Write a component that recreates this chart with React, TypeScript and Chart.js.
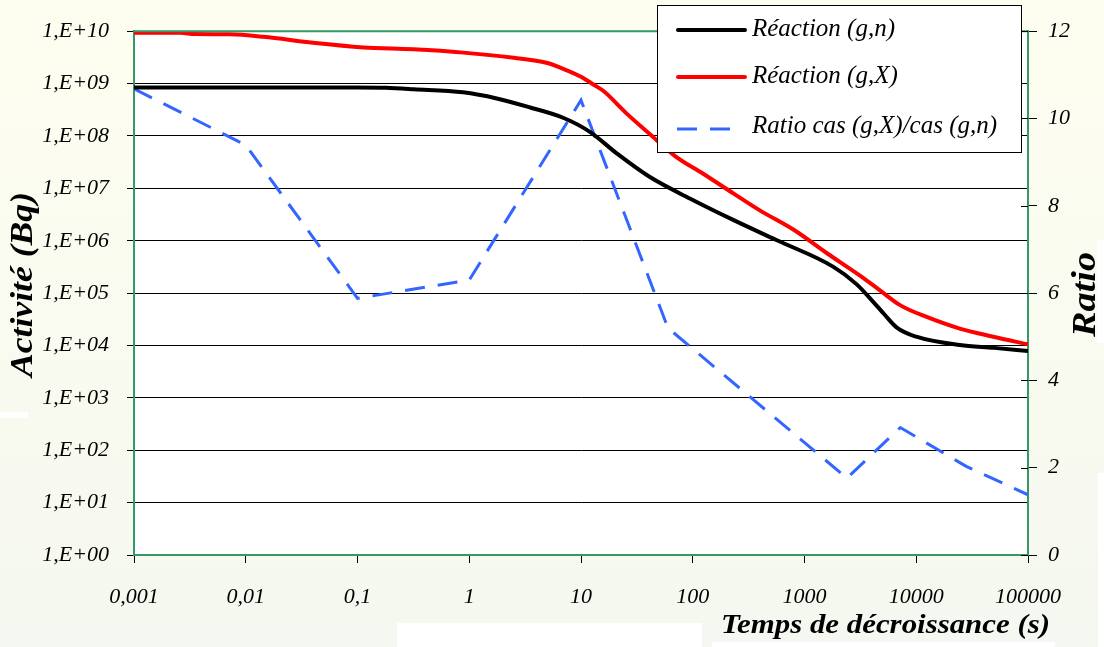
import React, { useEffect, useRef } from "react";
import { Chart, registerables } from "chart.js";

Chart.register(...registerables);

// ---------- data ----------
const xTicks = [0.001, 0.01, 0.1, 1, 10, 100, 1000, 10000, 100000];
const xTickLabels = ["0,001", "0,01", "0,1", "1", "10", "100", "1000", "10000", "100000"];

const yTicks = [1, 1e1, 1e2, 1e3, 1e4, 1e5, 1e6, 1e7, 1e8, 1e9, 1e10];
const yTickLabels = ["1,E+00", "1,E+01", "1,E+02", "1,E+03", "1,E+04", "1,E+05", "1,E+06", "1,E+07", "1,E+08", "1,E+09", "1,E+10"];

const ratioTicks = [0, 2, 4, 6, 8, 10, 12];

const seriesLabels = ["Réaction (g,n)", "Réaction (g,X)", "Ratio cas (g,X)/cas (g,n)"];

// Réaction (g,n)
const gnTimes = [0.001, 0.1, 0.18, 0.32, 0.88, 1.76, 3.5, 7, 12, 21, 41, 100, 230, 560, 1800, 2900, 4100, 5200, 6700, 10000, 24500, 50000, 100000];
const gnActivity = [8.4e8, 8.4e8, 8.3e8, 7.8e8, 6.8e8, 5.2e8, 3.5e8, 2.2e8, 1.2e8, 4.6e7, 1.66e7, 6e6, 2.5e6, 1.03e6, 3.2e5, 1.5e5, 6.9e4, 3.9e4, 2.2e4, 1.47e4, 1.02e4, 9e3, 7.8e3];

// Réaction (g,X)
const gxTimes = [0.001, 0.0026, 0.0035, 0.0072, 0.0144, 0.04, 0.113, 0.316, 0.885, 2.5, 4.9, 7, 10, 13, 15.9, 25.5, 41, 71, 124, 231, 398, 807, 1600, 3090, 4700, 7160, 12400, 24500, 49000, 100000];
const gxActivity = [9.3e9, 9.3e9, 8.8e9, 8.7e9, 7.8e9, 6e9, 4.9e9, 4.5e9, 3.9e9, 3.1e9, 2.5e9, 1.9e9, 1.35e9, 9.5e8, 7.2e8, 2.7e8, 1.1e8, 4e7, 1.9e7, 8e6, 3.8e6, 1.6e6, 5.7e5, 2.2e5, 1.14e5, 5.9e4, 3.5e4, 2.1e4, 1.47e4, 1.05e4];

// Ratio
const ratioTimes = [0.001, 0.01, 0.1, 1, 10, 60, 2400, 7200, 28000, 100000];
const ratioValues = [10.68, 9.39, 5.88, 6.3, 10.42, 5.2, 1.76, 2.92, 2.03, 1.38];

// ---------- styles ----------
const SERIF = "'Liberation Serif', 'Times New Roman', serif";
const GREEN = "#339966";
const BLUE = "#3366ff";
const RED = "#ff0000";
const BLACK = "#000000";

const toPoints = (xs: number[], ys: number[]) => xs.map((x, i) => ({ x, y: ys[i] }));

function drawStretched(
  ctx: CanvasRenderingContext2D,
  text: string,
  x: number,
  y: number,
  font: string,
  targetW: number,
  rot: number
) {
  ctx.save();
  ctx.font = font;
  const w = ctx.measureText(text).width;
  ctx.translate(x, y);
  ctx.rotate(rot);
  ctx.scale(targetW / w, 1);
  ctx.textAlign = "center";
  ctx.textBaseline = "alphabetic";
  ctx.fillStyle = "#000";
  ctx.fillText(text, 0, 0);
  ctx.restore();
}

const decorPlugin = {
  id: "decor",
  beforeDraw(chart: any) {
    const { ctx, chartArea: a, width, height } = chart;
    ctx.save();
    const g = ctx.createLinearGradient(0, 0, 0, height);
    g.addColorStop(0, "#fefef0");
    g.addColorStop(1, "#f5f8f0");
    ctx.fillStyle = g;
    ctx.fillRect(0, 0, width, height);
    ctx.fillStyle = "#ffffff";
    ctx.fillRect(397, 623, 305, 24);
    ctx.fillRect(712, 642, 343, 5);
    ctx.fillRect(0, 412, 28, 6);
    ctx.fillRect(1097, 240, 7, 103);
    ctx.fillRect(1098, 473, 6, 174);
    ctx.fillRect(a.left, a.top, a.right - a.left, a.bottom - a.top);
    ctx.restore();
  },
  afterDraw(chart: any) {
    const { ctx, chartArea: a } = chart;
    ctx.save();
    // top border
    ctx.strokeStyle = GREEN;
    ctx.lineWidth = 2;
    ctx.beginPath();
    ctx.moveTo(a.left - 1, a.top);
    ctx.lineTo(a.right + 1, a.top);
    ctx.stroke();

    // inner part of right-axis ticks
    const y1 = chart.scales.y1;
    ctx.strokeStyle = "#000";
    ctx.lineWidth = 1;
    ratioTicks.forEach((v) => {
      const py = Math.round(y1.getPixelForValue(v)) + 0.5;
      ctx.beginPath();
      ctx.moveTo(a.right - 7, py);
      ctx.lineTo(a.right, py);
      ctx.stroke();
    });

    // axis titles
    drawStretched(ctx, "Temps de décroissance (s)", 885.5, 633, `italic bold 28px ${SERIF}`, 329, 0);
    drawStretched(ctx, "Activité (Bq)", 32, 284.5, `italic bold 32px ${SERIF}`, 185, -Math.PI / 2);
    drawStretched(ctx, "Ratio", 1095, 294.5, `italic bold 33px ${SERIF}`, 85, -Math.PI / 2);

    // legend
    const lx = 657, ly = 5, lw = 365, lh = 148;
    ctx.fillStyle = "#ffffff";
    ctx.fillRect(lx, ly, lw, lh);
    ctx.strokeStyle = "#000";
    ctx.lineWidth = 1;
    ctx.strokeRect(lx + 0.5, ly + 0.5, lw - 1, lh - 1);

    const ds = chart.data.datasets;
    const rowsY = [30, 77, 129];
    const baseY = [36, 83, 133];
    ds.forEach((d: any, i: number) => {
      ctx.save();
      ctx.strokeStyle = d.borderColor;
      ctx.lineWidth = d.borderWidth;
      ctx.lineCap = d.borderDash && d.borderDash.length ? "butt" : "round";
      ctx.setLineDash(d.borderDash || []);
      ctx.beginPath();
      if (d.borderDash && d.borderDash.length) {
        ctx.moveTo(677, rowsY[i]);
        ctx.lineTo(736, rowsY[i]);
      } else {
        ctx.moveTo(678, rowsY[i]);
        ctx.lineTo(745, rowsY[i]);
      }
      ctx.stroke();
      ctx.restore();
      ctx.fillStyle = "#000";
      ctx.font = `italic 25px ${SERIF}`;
      ctx.textAlign = "left";
      ctx.textBaseline = "alphabetic";
      ctx.fillText(d.label, 752, baseY[i]);
    });
    ctx.restore();
  },
};

export default function App() {
  const canvasRef = useRef<HTMLCanvasElement | null>(null);

  useEffect(() => {
    if (!canvasRef.current) return;
    Chart.defaults.font.family = SERIF;
    const chart = new Chart(canvasRef.current, {
      type: "line",
      data: {
        datasets: [
          {
            label: seriesLabels[0],
            data: toPoints(gnTimes, gnActivity),
            borderColor: BLACK,
            backgroundColor: BLACK,
            borderWidth: 4,
            pointRadius: 0,
            cubicInterpolationMode: "monotone",
            yAxisID: "y",
          },
          {
            label: seriesLabels[1],
            data: toPoints(gxTimes, gxActivity),
            borderColor: RED,
            backgroundColor: RED,
            borderWidth: 4,
            pointRadius: 0,
            cubicInterpolationMode: "monotone",
            yAxisID: "y",
          },
          {
            label: seriesLabels[2],
            data: toPoints(ratioTimes, ratioValues),
            borderColor: BLUE,
            backgroundColor: BLUE,
            borderWidth: 3,
            borderDash: [20, 13],
            pointRadius: 0,
            tension: 0,
            yAxisID: "y1",
          },
        ],
      },
      options: {
        responsive: false,
        animation: false,
        devicePixelRatio: 1,
        layout: { padding: { top: 31, left: 0, right: 0, bottom: 0 } },
        plugins: { legend: { display: false }, tooltip: { enabled: false }, title: { display: false } },
        scales: {
          x: {
            type: "logarithmic",
            position: "bottom",
            min: 0.001,
            max: 100000,
            afterBuildTicks: (s: any) => {
              s.ticks = xTicks.map((v) => ({ value: v }));
            },
            afterFit: (s: any) => {
              s.height = 92;
            },
            grid: { drawOnChartArea: false, drawTicks: true, tickLength: 8, color: "#000", lineWidth: 1 },
            border: { color: GREEN, width: 2 },
            ticks: {
              color: "#000",
              font: { family: SERIF, size: 22, style: "italic" },
              padding: 21,
              maxRotation: 0,
              autoSkip: false,
              callback: (v: any) => {
                const i = xTicks.indexOf(Number(v));
                return i >= 0 ? xTickLabels[i] : "";
              },
            },
          },
          y: {
            type: "logarithmic",
            position: "left",
            min: 1,
            max: 1e10,
            afterBuildTicks: (s: any) => {
              s.ticks = yTicks.map((v) => ({ value: v }));
            },
            afterFit: (s: any) => {
              s.width = 134;
            },
            grid: { drawOnChartArea: true, drawTicks: true, tickLength: 7, color: "#000", lineWidth: 1 },
            border: { color: GREEN, width: 2 },
            ticks: {
              color: "#000",
              font: { family: SERIF, size: 22, style: "italic" },
              padding: 18,
              autoSkip: false,
              callback: (v: any) => {
                const i = yTicks.indexOf(Number(v));
                return i >= 0 ? yTickLabels[i] : "";
              },
            },
          },
          y1: {
            type: "linear",
            position: "right",
            min: 0,
            max: 12,
            afterBuildTicks: (s: any) => {
              s.ticks = ratioTicks.map((v) => ({ value: v }));
            },
            afterFit: (s: any) => {
              s.width = 76;
            },
            grid: { drawOnChartArea: false, drawTicks: true, tickLength: 9, color: "#000", lineWidth: 1 },
            border: { color: GREEN, width: 2 },
            ticks: {
              color: "#000",
              font: { family: SERIF, size: 22, style: "italic" },
              padding: 11,
              autoSkip: false,
              callback: (v: any) => String(v),
            },
          },
        },
      },
      plugins: [decorPlugin],
    } as any);
    return () => chart.destroy();
  }, []);

  return (
    <div style={{ position: "fixed", left: 0, top: 0, width: 1104, height: 647 }}>
      <canvas ref={canvasRef} width={1104} height={647} style={{ display: "block" }} />
    </div>
  );
}
